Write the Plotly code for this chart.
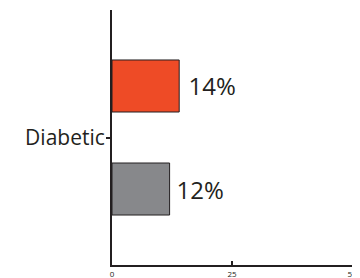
import plotly.graph_objects as go

categories = ["Diabetic"]
series_names = ["Group B", "Group A"]
values_gray = [12]
values_red = [14]
tick_vals = [0, 25, 50]
tick_text = ["0", "25", "50"]

fig = go.Figure()
fig.add_trace(go.Bar(
    y=categories, x=values_gray, orientation="h", name=series_names[0],
    marker=dict(color="#87888B", line=dict(color="#231F20", width=1)),
    text=[f"{v}%" for v in values_gray], texttemplate="\u2009%{text}",
    textposition="outside", cliponaxis=False,
    textfont=dict(family="Open Sans", size=24, color="#231F20"),
))
fig.add_trace(go.Bar(
    y=categories, x=values_red, orientation="h", name=series_names[1],
    marker=dict(color="#EE4B26", line=dict(color="#231F20", width=1)),
    text=[f"{v}%" for v in values_red], texttemplate=" %{text}",
    textposition="outside", cliponaxis=False,
    textfont=dict(family="Open Sans", size=24, color="#231F20"),
))

fig.update_layout(
    width=352, height=270,
    margin=dict(l=104, r=8, t=2, b=13, autoexpand=False),
    paper_bgcolor="white", plot_bgcolor="white",
    barmode="group", bargap=0.192, bargroupgap=0.495,
    showlegend=False,
)
fig.update_xaxes(
    range=[0, 50], tickvals=tick_vals, ticktext=tick_text,
    showgrid=False, zeroline=False, automargin=False,
    showline=True, linecolor="#231F20", linewidth=2,
    ticks="inside", ticklen=4, tickwidth=1.5, tickcolor="#231F20",
    tickfont=dict(family="Open Sans", size=8, color="#231F20"),
)
fig.update_yaxes(
    showgrid=False, zeroline=False, automargin=False,
    showline=True, linecolor="#231F20", linewidth=2,
    ticks="outside", ticklen=4, tickwidth=1.5, tickcolor="#231F20",
    ticklabelstandoff=-3,
    tickfont=dict(family="Open Sans", size=21, color="#231F20"),
)

fig.write_html("out.html")
